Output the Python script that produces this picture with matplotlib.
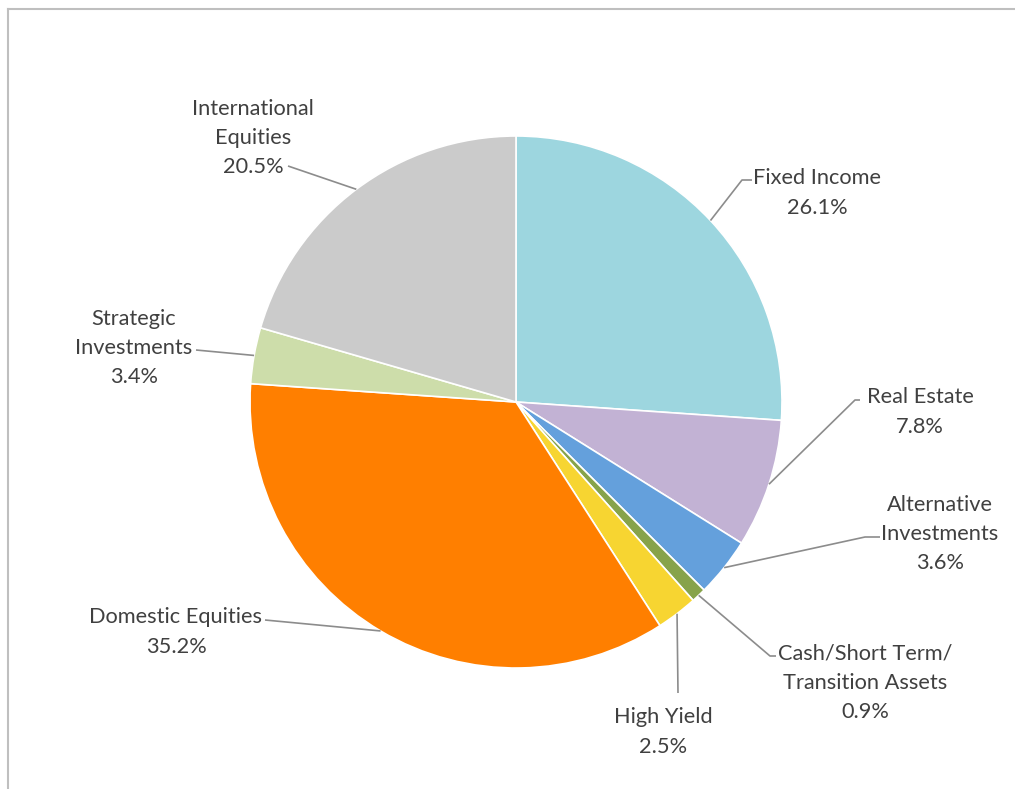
import numpy as np
import matplotlib
matplotlib.use("Agg")
import matplotlib.pyplot as plt
from matplotlib.lines import Line2D

categories = ["Fixed Income", "Real Estate", "Alternative\nInvestments",
              "Cash/Short Term/\nTransition Assets", "High Yield",
              "Domestic Equities", "Strategic\nInvestments",
              "International\nEquities"]
shares = [26.1, 7.8, 3.6, 0.9, 2.5, 35.2, 3.4, 20.5]
colors = ["#9DD6DF", "#C2B2D4", "#64A0DC", "#87A34A", "#F7D531",
          "#FF7F00", "#CDDDAA", "#CBCBCB"]

W, H = 1015, 789
fig = plt.figure(figsize=(W / 100, H / 100), dpi=100)
ax = fig.add_axes([0, 0, 1, 1])
ax.set_xlim(0, W)
ax.set_ylim(0, H)
ax.set_aspect("equal")
ax.axis("off")

# chart frame (runs off the right and bottom edges)
fig.add_artist(Line2D([8 / W, 8 / W], [0, 1 - 9 / H], transform=fig.transFigure,
                      color="#BFBFBF", lw=1.5))
fig.add_artist(Line2D([8 / W, 1], [1 - 9 / H, 1 - 9 / H], transform=fig.transFigure,
                      color="#BFBFBF", lw=1.5))

cx, cy, r = 516, H - 402, 266
wedges, _ = ax.pie(shares, colors=colors, startangle=90, counterclock=False,
                   center=(cx, cy), radius=r, frame=True,
                   wedgeprops=dict(edgecolor="white", linewidth=1.2))
ax.set_xlim(0, W)
ax.set_ylim(0, H)
ax.axis("off")

# label text centres (pixel coords, y down) and leader knee points
label_pos = [(817, 193), (920, 412), (940, 534), (865, 683), (663, 732),
             (176, 632), (134, 348), (253, 138)]
knees = [[(752, 180), (742, 180)],
         [(860, 400), (855, 400)],
         [(880, 537), (865, 537)],
         [(776, 656), (770, 656)],
         [(678, 693)],
         [(265, 620)],
         [(196, 350)],
         [(288, 166)]]

txt_color = "#404040"
for w, lab, v, (tx, ty), kn in zip(wedges, categories, shares, label_pos, knees):
    a = np.deg2rad(0.5 * (w.theta1 + w.theta2))
    ex, ey = cx + r * np.cos(a), cy + r * np.sin(a)
    xs = [p[0] for p in kn] + [ex]
    ys = [H - p[1] for p in kn] + [ey]
    ax.plot(xs, ys, color="#8C8C8C", lw=1.2, solid_capstyle="butt")
    ax.text(tx, H - ty, f"{lab}\n{v:.1f}%", ha="center", va="center",
            fontsize=15.7, family="Lato", color=txt_color, linespacing=1.57)

fig.savefig("out.png", dpi=100, facecolor="white")
